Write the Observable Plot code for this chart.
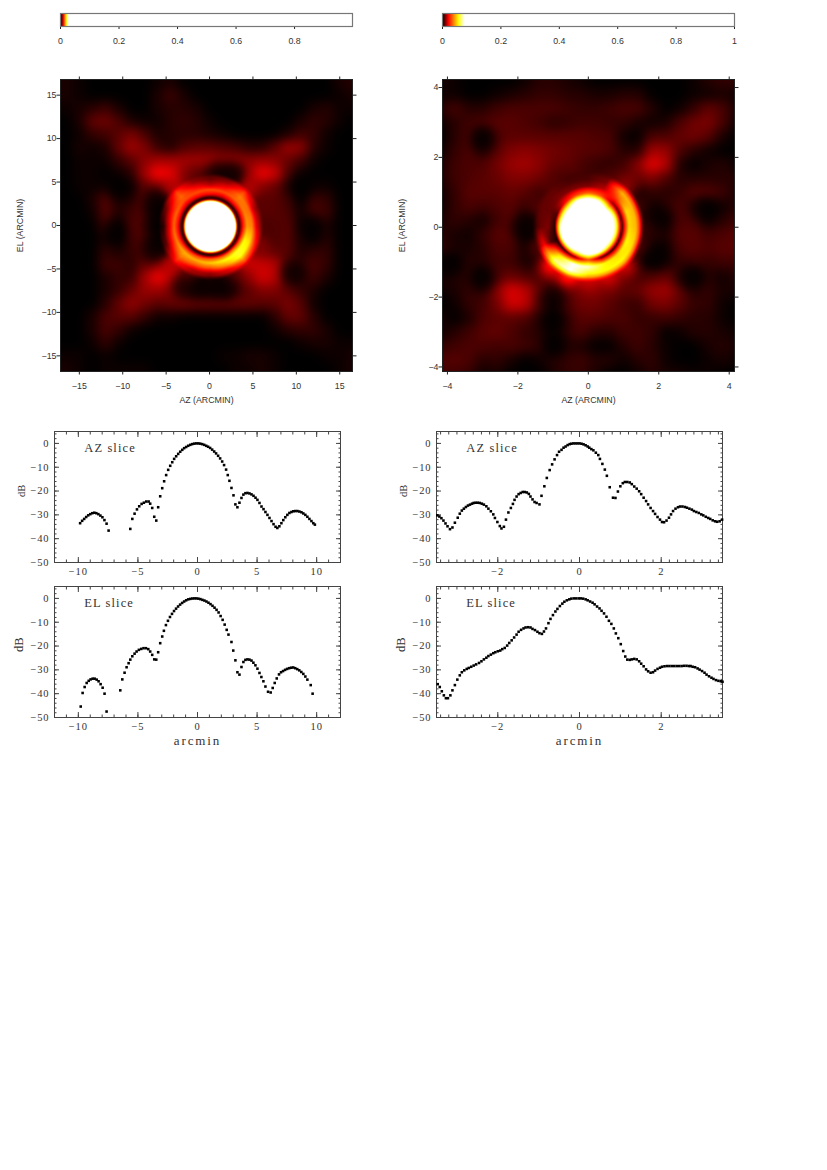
<!DOCTYPE html>
<html><head><meta charset="utf-8">
<script src="https://cdn.jsdelivr.net/npm/d3@7"></script>
<script src="https://cdn.jsdelivr.net/npm/@observablehq/plot@0.6"></script>
<style>html,body{margin:0;background:#fff;}#page{position:relative;width:827px;height:1170px;overflow:hidden;}#page svg{position:absolute;background:transparent;}
.sp-tick text{letter-spacing:.9px;}.sp-name text{letter-spacing:1.1px;}.sp-label text{letter-spacing:1.9px;}</style>
</head><body><div id="page"></div>
<script>
// ---------- slices: [arcmin, dB] ----------
const azWide = [[-9.85,-33.5],[-9.68,-32.5],[-9.51,-31.7],[-9.34,-30.9],[-9.17,-30.2],[-9,-29.7],[-8.83,-29.3],[-8.66,-29.1],[-8.49,-29.3],[-8.32,-29.7],[-8.15,-30.3],[-7.98,-31],[-7.81,-32.2],[-7.63,-33.7],[-7.46,-36.6],
[-5.64,-35.9],[-5.47,-31.7],[-5.28,-29.5],[-5.08,-27.7],[-4.89,-26.4],[-4.69,-25.4],[-4.5,-24.9],[-4.3,-24.4],[-4.1,-24.4],[-3.97,-25.3],[-3.8,-27.1],[-3.63,-30.8],[-3.46,-32.4],
[-3.3,-26.8],[-3.13,-22.2],[-2.96,-18.8],[-2.8,-15.9],[-2.63,-13.3],[-2.46,-11.1],[-2.29,-9.4],[-2.12,-7.9],[-1.96,-6.5],[-1.79,-5.4],[-1.62,-4.4],[-1.45,-3.5],[-1.28,-2.7],[-1.12,-2],[-.95,-1.5],[-.78,-1],[-.61,-.6],[-.45,-.3],[-.28,-.1],[-.11,0],[.06,0],[.22,-.1],[.39,-.3],[.56,-.6],[.73,-1],[.89,-1.4],[1.06,-1.9],[1.23,-2.6],[1.4,-3.4],[1.56,-4.2],[1.73,-5.2],[1.9,-6.3],[2.07,-7.6],[2.23,-9.1],[2.4,-11],[2.54,-13.3],[2.68,-15.7],[2.85,-18.7],[3.02,-21.8],[3.18,-25.6],[3.35,-26.8],[3.52,-24.9],[3.69,-22.9],[3.85,-21.5],[4.02,-20.9],[4.19,-20.8],[4.36,-21],[4.53,-21.4],[4.7,-22],[4.87,-22.8],[5.03,-23.7],[5.2,-25],[5.37,-26.5],[5.54,-27.6],[5.7,-28.8],[5.87,-30],[6.04,-31.3],[6.21,-32.6],[6.38,-33.9],[6.55,-35],[6.7,-35.5],[6.87,-34.8],[7.04,-33.5],[7.2,-32.2],[7.37,-31],[7.54,-30],[7.71,-29.2],[7.88,-28.8],[8.04,-28.5],[8.2,-28.4],[8.38,-28.4],[8.55,-28.6],[8.72,-28.9],[8.88,-29.4],[9.05,-30],[9.22,-30.8],[9.39,-31.7],[9.56,-32.6],[9.72,-33.5],[9.85,-34.1]];
const elWide = [[-9.8,-45.4],[-9.64,-39.7],[-9.47,-37.2],[-9.3,-35.5],[-9.13,-34.6],[-8.97,-34],[-8.8,-33.7],[-8.63,-33.7],[-8.46,-34.1],[-8.3,-34.8],[-8.13,-36],[-7.96,-37.5],[-7.8,-40],[-7.63,-47.5],
[-6.48,-38.6],[-6.31,-34],[-6.12,-31.2],[-5.95,-28.9],[-5.78,-27.2],[-5.64,-25.7],[-5.47,-24.3],[-5.28,-23.2],[-5.11,-22.3],[-4.92,-21.6],[-4.72,-21.2],[-4.53,-20.9],[-4.33,-20.9],[-4.13,-21.3],[-3.97,-22.3],[-3.8,-23.7],[-3.63,-25.6],[-3.46,-25.7],[-3.3,-22.6],[-3.13,-18.8],[-2.96,-16],[-2.82,-13.6],[-2.65,-11.2],[-2.48,-9.4],[-2.31,-7.8],[-2.14,-6.5],[-1.97,-5.3],[-1.8,-4.3],[-1.63,-3.4],[-1.46,-2.6],[-1.29,-1.9],[-1.12,-1.3],[-.95,-.8],[-.78,-.4],[-.61,-.2],[-.44,-.05],[-.27,0],[-.1,0],[.07,-.1],[.24,-.3],[.41,-.6],[.58,-.9],[.75,-1.3],[.92,-1.8],[1.09,-2.4],[1.26,-3.1],[1.43,-3.9],[1.6,-4.8],[1.77,-5.9],[1.94,-7.4],[2.11,-9],[2.28,-11],[2.45,-13.2],[2.6,-15.2],[2.85,-18.3],[3.0,-21.9],[3.18,-26],[3.35,-31],[3.52,-32],[3.69,-28.8],[3.85,-26.7],[4.02,-25.8],[4.19,-25.6],[4.36,-25.7],[4.53,-26.1],[4.69,-27],[4.86,-28.1],[5.03,-29.5],[5.2,-31.3],[5.36,-33],[5.53,-34.8],[5.7,-37],[5.92,-39.2],[6.14,-39.5],[6.31,-37.6],[6.48,-35.5],[6.65,-33.6],[6.84,-31.9],[7.01,-31],[7.18,-30.5],[7.35,-30],[7.52,-29.6],[7.69,-29.3],[7.86,-29.1],[8.03,-29],[8.2,-29.3],[8.37,-29.7],[8.54,-30.2],[8.71,-30.9],[8.88,-31.7],[9.05,-32.8],[9.22,-34.1],[9.5,-36.4],[9.66,-40]];
const azNarrow = [[-3.48,-30.2],[-3.43,-30.7],[-3.38,-31.4],[-3.33,-32.4],[-3.28,-33.6],[-3.23,-34.8],[-3.17,-36],[-3.11,-35.3],[-3.05,-33.3],[-2.98,-31.2],[-2.93,-29.5],[-2.88,-28.2],[-2.83,-27.4],[-2.78,-26.7],[-2.73,-26.1],[-2.68,-25.7],[-2.63,-25.3],[-2.59,-25],[-2.54,-24.9],[-2.49,-24.9],[-2.44,-25],[-2.39,-25.3],[-2.34,-25.7],[-2.28,-26.4],[-2.23,-27.4],[-2.17,-28.5],[-2.11,-29.8],[-2.07,-31.3],[-2.01,-33],[-1.95,-34.7],[-1.91,-35.7],[-1.85,-35],[-1.8,-32],[-1.74,-29],[-1.68,-27.1],[-1.63,-25.4],[-1.59,-23.7],[-1.54,-22.3],[-1.49,-21.3],[-1.44,-20.8],[-1.39,-20.4],[-1.34,-20.4],[-1.29,-20.6],[-1.24,-21.2],[-1.2,-22.3],[-1.15,-23.5],[-1.1,-24.6],[-1.05,-25],[-.98,-25.6],[-.93,-22],[-.86,-18],[-.8,-14.5],[-.73,-11.2],[-.67,-8.8],[-.61,-6.7],[-.55,-4.9],[-.5,-3.5],[-.44,-2.7],[-.39,-1.8],[-.34,-1.3],[-.29,-.7],[-.24,-.3],[-.2,-.14],[-.15,0],[-.1,0],[-.05,0],[0,0],[.05,-.14],[.1,-.4],[.15,-.8],[.2,-1.3],[.24,-1.8],[.29,-2.4],[.34,-2.9],[.4,-3.9],[.46,-4.9],[.5,-6.5],[.56,-8.6],[.62,-11],[.67,-13.6],[.74,-18.4],[.82,-22.8],[.88,-22.9],[.94,-20.2],[1,-18],[1.06,-16.7],[1.11,-16.2],[1.17,-16.2],[1.23,-16.4],[1.28,-17.1],[1.34,-18.1],[1.4,-19],[1.46,-20.1],[1.51,-21.3],[1.57,-22.8],[1.63,-24.2],[1.68,-25.6],[1.74,-27.1],[1.8,-28.4],[1.85,-29.6],[1.91,-30.9],[1.97,-32],[2.02,-33],[2.07,-33.1],[2.13,-32.4],[2.19,-31.2],[2.24,-29.8],[2.29,-28.4],[2.35,-27.4],[2.41,-26.8],[2.46,-26.5],[2.52,-26.5],[2.58,-26.7],[2.63,-27],[2.69,-27.4],[2.75,-27.8],[2.8,-28.4],[2.86,-28.8],[2.92,-29.2],[2.98,-29.8],[3.03,-30.2],[3.09,-30.8],[3.15,-31.3],[3.2,-31.7],[3.26,-32.3],[3.32,-32.7],[3.37,-32.9],[3.43,-32.7],[3.49,-32]];
const elNarrow = [[-3.47,-36],[-3.42,-37.2],[-3.37,-39],[-3.32,-40.7],[-3.27,-41.9],[-3.22,-41.9],[-3.16,-40.7],[-3.11,-38.6],[-3.05,-36.4],[-2.99,-34.1],[-2.93,-32.3],[-2.88,-31],[-2.82,-30.2],[-2.76,-29.6],[-2.71,-29.2],[-2.65,-28.7],[-2.59,-28.2],[-2.53,-27.7],[-2.46,-27.1],[-2.4,-26.4],[-2.34,-25.6],[-2.28,-24.9],[-2.23,-24.2],[-2.17,-23.6],[-2.11,-23],[-2.06,-22.6],[-2,-22.2],[-1.94,-21.9],[-1.89,-21.3],[-1.83,-20.8],[-1.77,-19.8],[-1.72,-18.7],[-1.66,-17.6],[-1.6,-16.4],[-1.54,-15.2],[-1.49,-14],[-1.43,-13.2],[-1.37,-12.6],[-1.32,-12.2],[-1.26,-12.1],[-1.2,-12.2],[-1.15,-12.8],[-1.09,-13.3],[-1.03,-14],[-.98,-14.6],[-.92,-14.9],[-.87,-13.9],[-.82,-12.6],[-.76,-10.4],[-.71,-8.6],[-.65,-7],[-.59,-5.5],[-.54,-4.4],[-.48,-3.2],[-.42,-2.2],[-.37,-1.4],[-.31,-.8],[-.25,-.4],[-.2,-.1],[-.14,0],[-.08,0],[-.02,0],[.03,0],[.09,-.1],[.15,-.4],[.2,-.8],[.26,-1.3],[.32,-1.8],[.37,-2.5],[.43,-3.4],[.49,-4.2],[.54,-5.2],[.6,-6.3],[.66,-7.7],[.72,-9.4],[.78,-10.7],[.84,-12.6],[.89,-14.7],[.95,-16.7],[1.01,-19.2],[1.07,-22.1],[1.12,-24.4],[1.17,-25.7],[1.23,-25.8],[1.28,-25.6],[1.34,-25.4],[1.4,-25.6],[1.46,-26.4],[1.51,-27.4],[1.57,-28.5],[1.63,-29.8],[1.68,-30.6],[1.74,-31.2],[1.8,-31],[1.85,-30.3],[1.91,-29.6],[1.97,-29.1],[2.02,-28.7],[2.08,-28.5],[2.14,-28.4],[2.2,-28.4],[2.26,-28.4],[2.32,-28.4],[2.38,-28.4],[2.44,-28.4],[2.5,-28.4],[2.56,-28.3],[2.62,-28.3],[2.68,-28.4],[2.72,-28.4],[2.77,-28.7],[2.83,-28.9],[2.89,-29.4],[2.94,-29.9],[3,-30.5],[3.06,-31.2],[3.11,-32],[3.17,-32.7],[3.23,-33.3],[3.28,-33.8],[3.34,-34.3],[3.4,-34.6],[3.46,-34.8],[3.5,-35]];

// ---------- beam maps: relative power x 1000 ----------
const wideAxis = [-16.5,-15,-13.5,-12,-10.5,-9,-7.5,-6,-4.5,-3,-1.5,0,1.5,3,4.5,6,7.5,9,10.5,12,13.5,15,16.5];
const wideGrid = [
[1,.5,0,0,0,0,0,.5,1,0,0,0,0,0,0,0,0,0,0,0,0,1,1.5],
[1,.5,0,0,0,0,0,1,2.5,1,0,0,0,0,0,0,0,0,0,0,0,.5,1],
[.5,1,1.5,2.5,1,0,0,1,1.5,1.5,1,0,0,0,0,0,0,0,0,1,1.5,.5,.5],
[0,1,4,4.5,3,1,.5,.5,1.5,2,1.5,.5,0,0,0,0,0,0,1,2,1.5,.5,0],
[0,.5,2,2.5,3.5,5,3,1,1.5,1.5,1.5,1,.5,0,0,0,0,1,2.5,2,.5,0,0],
[0,1,.5,1,4,6.5,5,2,1,3,3.5,3.5,3,2.5,1.5,1.5,3.5,6.5,6,1.5,.5,0,0],
[0,.5,.5,.5,2,3.5,5.5,6.5,6.5,6.5,6.5,6.5,6,6,5.5,6,5.5,4,2.5,.5,0,0,0],
[0,.5,.5,0,.5,1.5,6.5,10.5,9.5,6,3,2,.5,.5,6,10,8.5,3,.5,0,0,0,0],
[0,.5,.5,.5,0,.5,3.5,5,6,0,0,0,0,0,6,5,4,1.5,0,.5,.5,0,0],
[0,0,1,3.5,1.5,1.5,3.5,.5,0,0,0,0,0,0,0,3.5,3.5,2.5,0,2.5,2,0,0],
[0,0,.5,3.5,1,2.5,3.5,0,0,0,0,0,0,0,0,3.5,3.5,3,.5,3,2.5,0,0],
[0,0,0,2.5,0,3,3.5,0,0,0,0,0,0,0,0,4,3,3.5,1,.5,1,0,0],
[0,0,0,1,0,2.5,3.5,0,0,0,0,0,0,0,0,4.5,3,3.5,1,0,1.5,0,0],
[0,0,0,2,1,2,3.5,1,0,0,0,0,0,0,0,5,3.5,3.5,1,2,2,0,0],
[0,0,0,2.5,2.5,1.5,4,6,7,0,0,0,0,0,8,8,7.5,2.5,2,3,2,0,0],
[0,0,0,1,2,2,6.5,10,7.5,3.5,3,3,3,3.5,5.5,8.5,7.5,2,1.5,2.5,1,0,0],
[0,0,0,1,2,4,6,6,5,3,1,1,1,2.5,3.5,5,5,3.5,2,1,0,0,0],
[0,0,0,1.5,4,6,4.5,3.5,4,4.5,4,4,4,4,4,3.5,3.5,5,3.5,.5,0,0,0],
[0,0,1,3,3.5,3.5,2,.5,.5,0,0,0,0,0,0,0,1.5,4,4,1.5,0,0,0],
[0,0,1,3,2,.5,0,0,0,0,0,0,0,0,0,0,.5,1.5,2,2,1,0,0],
[0,0,.5,2,.5,0,0,0,0,0,0,0,0,0,0,0,0,0,.5,1,1,.5,.5],
[.5,.5,0,.5,0,0,0,0,0,0,0,0,.5,.5,1,1,.5,0,0,0,.5,.5,1],
[1,.5,0,.5,.5,.5,.5,0,0,0,0,0,0,.5,.5,1,.5,0,0,0,0,.5,1]];
const wideExtras = [[-6.3,2,0],[-6.3,0,0],[-6.3,-2,0],[-6.6,-3,.3],[-6.2,3,.5],[-3,-7,.3],[-1.5,-7,0],[0,-7,0],[1.5,-7,0],[2,-7,.3],[1,6.1,.2],[2.5,6,.2],[9.7,-5.4,0],[10.5,4.5,0],[-10.3,4,0],[-11,-.8,0],[11.6,0,0]];
// rings around the peak: radius, then values at 16 bearings, counter-clockwise from east
const wideRings = [
[2.5,40,40,40,40,40,40,40,40,40,40,40,40,40,40,40,40],
[2.85,30,30,30,30,30,30,30,30,30,30,30,30,30,30,30,30],
[3.1,6,6,6,6,6,6,6,6,6,6,6,6,6,6,6,6],
[3.3,1,1,1,1,1,1,1,1,1,1,.5,.5,1,1,1,1],
[3.7,10,10,10,9,10,10,9,10,10,10,11,12,13,13,14,12],
[4.2,16,15,14,13,13,13,13,14,14,15,17,17,18,20,21,20],
[4.8,15,14,15,10,7,10,14,10,8,10,15,13,13,16,21,19],
[5.4,8,7,13,6,4,6,13,5,1.5,4,12,7,6,9,15,12],
[6.2,3,3.5,8,2,2.5,4,8,.5,0,.5,8,5,2.5,5,8,5]];
const narrowAxis = [-4.2,-3.8,-3.4,-3,-2.6,-2.2,-1.8,-1.4,-1,-.6,-.2,.2,.6,1,1.4,1.8,2.2,2.6,3,3.4,3.8,4.2];
const narrowGrid = [
[2,1,0,0,0,0,1,3,3,2,1,0,0,0,0,0,0,0,1,3,4,4],
[1,1,0,0,1,2,3,4,4,3,3,2,2,3,3,0,0,0,1,1,2,1],
[3,6,3,3,5,6,6,6,6,5,4,4,5,6,6,3,0,1,4,8,6,2],
[1,3,5,6,7,7,6,5,3,4,5,5,4,4,2,1,2,6,9,10,6,1],
[0,3,6,0,6,7,7,7,7,7,7,6,6,1,0,6,6,8,9,7,2,0],
[1,4,6,3,7,10,11,10,9,8,7,7,6,3,2,13,12,6,3,1,0,0],
[2,5,6,6,9,12,13,11,8,8,6,4,3,5,11,19,15,2,0,2,3,1],
[2,5,6,7,8,10,10,9,6,5,5,6,7,8,8,10,6,3,3,3,3,3],
[1,4,7,7,7,8,7,4,6,0,0,0,0,0,0,4,3,4,7,7,5,2],
[1,4,6,5,6,7,4,0,0,0,0,0,0,0,0,1,4,6,3,0,1,3],
[2,4,3,1,5,7,1,0,0,0,0,0,0,0,0,3,1,6,6,1,3,5],
[3,2,1,4,7,7,0,0,0,0,0,0,0,0,0,3,2,7,7,5,6,7],
[4,2,2,3,6,6,1,0,0,0,0,0,0,0,0,1,1,6,7,6,7,7],
[1,0,3,3,5,5,2,0,0,0,0,0,0,0,0,0,2,4,5,4,5,5],
[3,3,3,0,6,8,6,5,8,0,0,0,0,8,5,6,8,4,0,3,1,3],
[1,2,4,4,11,18,15,8,5,7,9,10,9,7,8,12,13,8,3,4,2,2],
[0,1,4,5,9,17,16,6,1,6,9,9,7,5,4,9,10,7,4,4,1,0],
[2,0,2,6,7,7,6,3,0,4,7,7,6,6,4,4,5,4,3,3,1,0],
[1,3,5,7,8,6,4,3,1,4,6,3,3,5,5,4,0,1,3,3,2,1],
[4,5,6,6,5,6,5,4,0,3,2,0,0,3,5,3,1,0,0,2,3,2],
[6,7,6,3,4,2,0,1,3,4,5,3,3,1,3,4,1,0,0,1,2,1],
[5,5,4,1,2,0,0,0,2,4,4,2,0,0,1,3,2,2,1,1,0,0]];
const narrowExtras = [[-3,2.5,0],[-1,-2,0],[-1,-2.7,0],[-.95,-3.35,0],[-3,-1.5,0],[-4,-1.15,0],[1.95,-.85,0],[2,.3,0],[3.3,.5,0],[2.9,-1.45,0],[-1.85,0,0]];
const narrowRings = [
[.6,100,100,100,100,100,100,100,100,100,100,100,100,100,100,100,100],
[.8,60,60,50,70,75,75,60,60,70,75,70,65,75,70,60,60],
[.95,3,5,12,30,35,30,20,6,3,2,3,10,30,6,3,3],
[1.15,50,50,30,15,10,10,10,8,10,6,50,75,72,55,50,55],
[1.35,45,45,45,10,6,6,8,8,8,20,65,75,55,55,55,50],
[1.6,5,6,15,7,5,5,7,7,3,8,35,30,20,20,25,8]];

const wideBreaks = [0,.01,.02,.027];
const narrowBreaks = [0,.02,.055,.075];
const barColors = ["#000","#f00","#ff0","#fff"];
const fracTicks = [0,.2,.4,.6,.8,1];
const page = document.getElementById("page");
function put(svg,left,top){svg.style.left=left+"px";svg.style.top=top+"px";page.appendChild(svg);}

function samples(axis,grid,extras,rings,center,hole){
  const pts=[];
  grid.forEach((row,j)=>row.forEach((v,i)=>{const x=axis[i],y=axis[axis.length-1-j];
    if(Math.hypot(x-center[0],y-center[1])>=hole) pts.push({x,y,v:v/1000,w:1});}));
  extras.forEach(([x,y,v])=>pts.push({x,y,v:v/1000,w:3}));
  const last=rings[rings.length-1];
  last.slice(1).forEach((v,k)=>{const a=k*Math.PI/8;
    pts.push({x:center[0]+last[0]*Math.cos(a),y:center[1]+last[0]*Math.sin(a),v:v/1000,w:1});});
  return pts;
}
// smooth reconstruction of the read values: polar table near the peak, soft kernel outside it
function smoother(o){
  const {rings,center,sigma,blend,xd,yd}=o;
  const radii=rings.map(r=>r[0]), rl=radii[radii.length-1], s2=2*sigma*sigma, cut=16*sigma*sigma;
  function polar(r,t){
    let i=d3.bisectRight(radii,r)-1; let f=0;
    if(i<0){i=0;f=0;} else if(i>=radii.length-1){i=radii.length-1;f=0;} else f=(r-radii[i])/(radii[i+1]-radii[i]);
    const a=((t/(Math.PI/8))%16+16)%16, k=Math.floor(a), g=a-k;
    const val=(ri)=>{const q=rings[ri];return q[1+k]*(1-g)+q[1+(k+1)%16]*g;};
    const v0=val(i), v1=i<radii.length-1?val(i+1):v0;
    return (v0*(1-f)+v1*f)/1000;
  }
  return (index,w,h)=>{
    const out=new Float64Array(w*h), P=o.pts;
    for(let py=0;py<h;py++){const y=yd[1]-(py+.5)/h*(yd[1]-yd[0]);
      for(let px=0;px<w;px++){const x=xd[0]+(px+.5)/w*(xd[1]-xd[0]);
        const r=Math.hypot(x-center[0],y-center[1]);
        let inner=0,outer=0;
        const t=Math.max(0,Math.min(1,(r-(rl-blend))/blend));
        if(t<1) inner=polar(r,Math.atan2(y-center[1],x-center[0]));
        if(t>0){let a=0,b=0;for(const p of P){const dx=p.x-x,dy=p.y-y,d=dx*dx+dy*dy;if(d>cut)continue;const e=p.w*Math.exp(-d/s2);a+=e*p.v;b+=e;}outer=b?a/b:0;}
        out[py*w+px]=inner*(1-t)+outer*t;
      }}
    return out;
  };
}
const blank=()=>"";
const minus=d=>String(d).replace("-","\u2212");
function heat(o){
  const mL=50,mR=14,mT=10,mB=42,W=292,H=292;
  const svg=Plot.plot({width:W+mL+mR,height:H+mT+mB,marginLeft:mL,marginRight:mR,marginTop:mT,marginBottom:mB,
    style:{fontFamily:"'Liberation Sans',sans-serif",fontSize:"8.8px",color:"#333",background:"transparent"},
    x:{domain:o.xd,label:null},y:{domain:o.yd,label:null},
    color:{type:"linear",domain:o.breaks,range:barColors,clamp:true},
    marks:[
      Plot.raster(o.pts,{x:"x",y:"y",fill:"v",interpolate:smoother(o),pixelSize:1}),
      Plot.axisX({anchor:"bottom",ticks:o.xt,tickSize:3.5,tickPadding:8,stroke:"#222",tickFormat:minus,label:"AZ (ARCMIN)",labelAnchor:"center",labelArrow:"none",labelOffset:31}),
      Plot.axisX({anchor:"top",ticks:o.xt,tickSize:3.5,tickFormat:blank,stroke:"#222",label:null}),
      Plot.axisY({anchor:"left",ticks:o.yt,tickSize:3.5,tickPadding:0.5,stroke:"#222",tickFormat:minus,label:"EL (ARCMIN)",labelAnchor:"center",labelArrow:"none",labelOffset:o.lo}),
      Plot.axisY({anchor:"right",ticks:o.yt,tickSize:3.5,tickFormat:blank,stroke:"#222",label:null}),
      Plot.frame({stroke:"#222"})
    ]});
  put(svg,o.left-mL,o.top-mT);
}
function bar(o){
  const mL=14,mR=14,mT=4,mB=22,W=292,H=13;
  const svg=Plot.plot({width:W+mL+mR,height:H+mT+mB,marginLeft:mL,marginRight:mR,marginTop:mT,marginBottom:mB,
    style:{fontFamily:"'Liberation Sans',sans-serif",fontSize:"8.8px",color:"#333",background:"transparent"},
    x:{domain:o.xd,label:null},y:{domain:[0,1],axis:null},
    color:{type:"linear",domain:o.breaks,range:barColors,clamp:true},
    marks:[
      Plot.raster({fill:(x)=>x,x1:o.xd[0],x2:o.xd[1],y1:0,y2:1,pixelSize:1}),
      Plot.axisX({anchor:"bottom",ticks:fracTicks.filter(t=>t<=o.xd[1]),tickSize:3,tickPadding:8,stroke:"#222",tickFormat:d=>String(d),label:null}),
      Plot.frame({stroke:"#777",strokeWidth:1.2})
    ]});
  put(svg,o.left-mL,o.top-mT);
}
function slice(o){
  const mL=45,mR=10,mT=4,mB=o.label?34:20,W=o.w,H=131;
  const xt=(v,s,f)=>Plot.axisX({anchor:v,ticks:s,tickSize:-f,tickFormat:blank,stroke:"#444",label:null});
  const yt=(v,s,f)=>Plot.axisY({anchor:v,ticks:s,tickSize:-f,tickFormat:blank,stroke:"#444",label:null});
  const svg=Plot.plot({width:W+mL+mR,height:H+mT+mB,marginLeft:mL,marginRight:mR,marginTop:mT,marginBottom:mB,
    style:{fontFamily:"'Liberation Serif',serif",fontSize:"10.5px",color:"#333",background:"transparent"},
    x:{domain:o.xd,label:null},y:{domain:[-50,5],label:null},
    marks:[
      xt("bottom",o.xminor,2.5),xt("top",o.xminor,2.5),xt("bottom",o.xmajor,5),xt("top",o.xmajor,5),
      yt("left",o.yminor,2.5),yt("right",o.yminor,2.5),yt("left",o.ymajor,5),yt("right",o.ymajor,5),
      Plot.axisX({anchor:"bottom",ticks:o.xmajor,tickSize:0,tickPadding:5,stroke:"none",tickFormat:minus,label:null,className:"sp-tick"}),
      Plot.axisY({anchor:"left",ticks:o.ymajor,tickSize:0,tickPadding:5,stroke:"none",tickFormat:minus,label:null,className:"sp-tick"}),
      Plot.text(["dB"],{frameAnchor:"left",dx:o.dbx,rotate:-90,text:d=>d,fontSize:o.dbs}),
      Plot.text([o.name],{x:o.nx,y:-1.9,text:d=>d,textAnchor:"start",fontSize:12.5,className:"sp-name"}),
      ...(o.label?[Plot.text(["arcmin"],{frameAnchor:"bottom",dy:27,text:d=>d,fontSize:13,className:"sp-label"})]:[]),
      Plot.frame({stroke:"#444"}),
      Plot.dot(o.pts,{x:d=>d[0],y:d=>d[1],symbol:"square",r:1.45,fill:"#000"})
    ]});
  put(svg,o.left-mL,o.top-mT);
}
bar({left:60,top:13,xd:[0,.998],breaks:wideBreaks});
bar({left:442,top:13,xd:[0,1],breaks:narrowBreaks});
const wideCfg={left:60,top:79,xd:[-17.17,16.47],yd:[-16.8,16.8],xt:[-15,-10,-5,0,5,10,15],yt:[-15,-10,-5,0,5,10,15],lo:44,breaks:wideBreaks,rings:wideRings,center:[.1,-.1],sigma:.8,blend:.5};
wideCfg.pts=samples(wideAxis,wideGrid,wideExtras,wideRings,wideCfg.center,6.3);
heat(wideCfg);
const narrowCfg={left:442,top:79,xd:[-4.14,4.15],yd:[-4.13,4.23],xt:[-4,-2,0,2,4],yt:[-4,-2,0,2,4],lo:44,breaks:narrowBreaks,rings:narrowRings,center:[0,.02],sigma:.21,blend:.15};
narrowCfg.pts=samples(narrowAxis,narrowGrid,narrowExtras,narrowRings,narrowCfg.center,1.7);
heat(narrowCfg);
const wideMajor=[-10,-5,0,5,10], wideMinor=d3.range(-12,12.01,1);
const narrowMajor=[-2,0,2], narrowMinor=d3.range(-3.4,3.41,.2).map(d=>+d.toFixed(1));
const dbMajor=[-50,-40,-30,-20,-10,0], dbMinor=d3.range(-50,5.01,2);
slice({left:54,top:431,w:286,xd:[-12,12],xmajor:wideMajor,xminor:wideMinor,ymajor:dbMajor,yminor:dbMinor,pts:azWide,name:"AZ slice",nx:-9.5,dbx:-33,dbs:10.5});
slice({left:54,top:586,w:286,xd:[-12,12],xmajor:wideMajor,xminor:wideMinor,ymajor:dbMajor,yminor:dbMinor,pts:elWide,name:"EL slice",nx:-9.5,dbx:-36,dbs:12.5,label:true});
slice({left:436,top:431,w:286,xd:[-3.5,3.5],xmajor:narrowMajor,xminor:narrowMinor,ymajor:dbMajor,yminor:dbMinor,pts:azNarrow,name:"AZ slice",nx:-2.77,dbx:-33,dbs:10.5});
slice({left:436,top:586,w:286,xd:[-3.5,3.5],xmajor:narrowMajor,xminor:narrowMinor,ymajor:dbMajor,yminor:dbMinor,pts:elNarrow,name:"EL slice",nx:-2.77,dbx:-36,dbs:12.5,label:true});
</script></body></html>
